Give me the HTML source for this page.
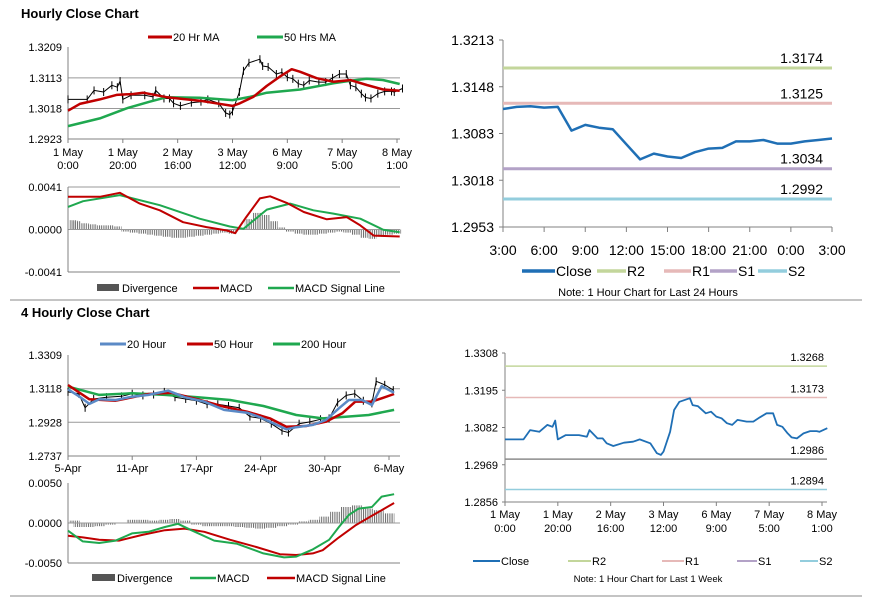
<!DOCTYPE html>
<html><head><meta charset="utf-8">
<style>
body{margin:0;background:#fff;}
svg{display:block;font-family:"Liberation Sans",Arial,sans-serif;}
</style></head>
<body>
<svg id="c" width="873" height="601" viewBox="0 0 873 601" xmlns="http://www.w3.org/2000/svg">
<defs><pattern id="hatch" width="2.2" height="4" patternUnits="userSpaceOnUse"><rect width="1" height="4" fill="#666"/></pattern></defs>
<rect width="873" height="601" fill="#fff"/>
<text x="21" y="18" font-size="13" font-weight="bold">Hourly Close Chart</text>
<text x="21" y="317" font-size="13" font-weight="bold">4 Hourly Close Chart</text>
<line x1="10" y1="300" x2="862" y2="300" stroke="#888" stroke-width="1"/>
<line x1="10" y1="596" x2="862" y2="596" stroke="#888" stroke-width="1"/>
<g id="root"></g>
</svg>
<script>
// ---------- DATA ----------
const hrTickLabels=[["1 May","0:00"],["1 May","20:00"],["2 May","16:00"],["3 May","12:00"],["6 May","9:00"],["7 May","5:00"],["8 May","1:00"]];
const hrTickHours=[0,20,40,60,80,100,120];
const closeHours=[0,7,9.5,13,16,18,19,20,23,28,31,32,35,37,38.5,41,45,48.5,51,55,57.5,59,60,62.5,64,66,70,71,73,76,78,80,82,84,86,88,91.5,94,96.5,99,101.5,103,105,107,108.5,110.5,113,115.5,118,119,122];
const closeVals=[1.3046,1.3046,1.3074,1.3069,1.3090,1.3084,1.3103,1.3046,1.3059,1.3059,1.3054,1.3074,1.3049,1.3049,1.3034,1.3026,1.3036,1.3039,1.3046,1.3034,1.3004,1.2999,1.3009,1.3069,1.3135,1.3160,1.3171,1.3150,1.3147,1.3125,1.3130,1.3115,1.3110,1.3095,1.3090,1.3105,1.3100,1.3100,1.3113,1.3125,1.3125,1.3090,1.3084,1.3064,1.3052,1.3049,1.3064,1.3071,1.3071,1.3069,1.3080];
const ma20Hours=[0,4.3,11.6,17.7,23.8,27.4,36,48,54,60,62.7,67.6,72.5,77.3,81.6,84.7,90.7,96.8,103,109,115,121];
const ma20Vals=[1.3011,1.3032,1.3046,1.3060,1.3063,1.3067,1.3053,1.3042,1.3034,1.3026,1.3034,1.3054,1.3088,1.3117,1.3140,1.3132,1.3112,1.3101,1.3106,1.3091,1.3077,1.3073];
const ma50Hours=[0,11.6,21.3,29.8,36,48,60,66.4,72.5,84.7,96.8,103,109,115,121];
const ma50Vals=[1.2963,1.2987,1.3018,1.3039,1.3053,1.3051,1.3044,1.3054,1.3067,1.3077,1.3096,1.3104,1.3110,1.3106,1.3094];
const macd1Hours=[0,11.6,18.9,26.2,33.5,42,50.5,58,61,65,70,73.7,79.8,86,94.4,101.7,106.6,111.5,121];
const macd1Vals=[0.00315,0.00315,0.00354,0.0025,0.00185,0.0007,0.00023,-0.0001,-0.00036,0.0012,0.003,0.0032,0.00257,0.00169,0.00098,0.0012,0.0004,-0.00059,-0.00068];
const sig1Hours=[0,5.5,18.9,33.5,48,59,64,72.5,81,89.5,96.8,106.6,115,121];
const sig1Vals=[0.00218,0.00273,0.00332,0.00234,0.00104,0.00029,0.00007,0.00192,0.0025,0.00185,0.00153,0.00104,-0.00003,-0.00026];
const div1Vals=[.0009,.0008,.0006,.0005,.0004,.0004,.0003,-.0002,-.0003,-.0004,-.0005,-.0006,-.0007,-.0008,-.0008,-.0007,-.0006,-.0005,-.0004,-.0003,-.0004,.0001,.0010,.0016,.0014,.0008,.0002,-.0002,-.0004,-.0005,-.0005,-.0004,-.0003,-.0002,-.0003,-.0005,-.0008,-.0009,-.0007,-.0005,-.0004];
const dayLabels=["3:00","6:00","9:00","12:00","15:00","18:00","21:00","0:00","3:00"];
const dayClose=[1.3117,1.3120,1.3121,1.3119,1.3120,1.3087,1.3095,1.3091,1.3089,1.3068,1.3047,1.3055,1.3051,1.3049,1.3057,1.3062,1.3063,1.3072,1.3072,1.3074,1.3069,1.3069,1.3072,1.3074,1.3076];
const dayLevels=[1.3174,1.3125,1.3034,1.2992];
const weekLevels=[1.3268,1.3173,1.2986,1.2894];
const h4TickLabels=["5-Apr","11-Apr","17-Apr","24-Apr","30-Apr","6-May"];
const h4TickIdx=[0,30,60,90,120,150];
const h4PriceIdx=[0,5,8,12,18,25,30,35,40,45,50,55,60,65,70,75,80,85,90,95,100,103,108,113,118,122,126,130,134,138,142,144,148,152];
const h4PriceVals=[1.3100,1.3090,1.3010,1.3060,1.3070,1.3075,1.3090,1.3080,1.3085,1.3100,1.3070,1.3060,1.3050,1.3030,1.3030,1.3020,1.3010,1.2960,1.2950,1.2920,1.2880,1.2870,1.2920,1.2930,1.2945,1.2950,1.3040,1.3080,1.3090,1.3050,1.3035,1.3160,1.3140,1.3110];
const m20Idx=[0,5.4,10,14.6,22.3,29.9,37.6,46.8,54.5,63.7,72.9,83.7,89.8,95.9,102,106.7,114.4,120.5,126.6,131.2,137.4,142,146.6,152.4];
const m20Vals=[1.3115,1.3073,1.3032,1.3058,1.3054,1.3073,1.3083,1.3107,1.3070,1.3045,1.2998,1.2982,1.2956,1.2922,1.2888,1.2900,1.2913,1.2941,1.3007,1.3054,1.3054,1.3026,1.3133,1.3095];
const m50Idx=[0,10,22.3,37.6,48.4,60.6,72.9,83.7,94.4,102,111.3,120.5,128.2,134.3,142,146.6,152.4];
const m50Vals=[1.3139,1.3058,1.3050,1.3088,1.3095,1.3058,1.3016,1.2988,1.2950,1.2903,1.2907,1.2931,1.2979,1.3045,1.3045,1.3064,1.3088];
const m200Idx=[0,14.6,29.9,45.3,60.6,75.8,91.3,106.7,119,129.7,140.5,152.4];
const m200Vals=[1.3130,1.3083,1.3092,1.3083,1.3070,1.3054,1.3020,1.2969,1.2950,1.2959,1.2969,1.2998];
const macd4Idx=[0,6.9,14.6,22.3,29.9,37.6,45.3,51.4,57.6,68.3,79,91.3,101,106.7,114.4,122,126.6,131.2,135.8,142,146.6,152.4];
const macd4Vals=[-0.00096,-0.0023,-0.0025,-0.0022,-0.0013,-0.0011,-0.0005,-0.0001,-0.0009,-0.0022,-0.0026,-0.0038,-0.0043,-0.0042,-0.0033,-0.0021,-0.0005,0.0010,0.0018,0.0020,0.0033,0.0036];
const sig4Idx=[0,6.9,14.6,23.8,34.5,45.3,54.5,63.7,75.8,88,99,106.7,114.4,119,126.6,134.3,142,152.4];
const sig4Vals=[-0.0016,-0.0018,-0.0021,-0.0022,-0.0015,-0.0009,-0.0007,-0.0011,-0.0021,-0.0030,-0.0039,-0.0040,-0.0038,-0.0034,-0.0018,-0.0003,0.0009,0.0025];
const div4Vals=[.0003,-.0005,-.0005,-.0004,-.0002,0,.0004,.0004,.0003,.0004,.0005,.0003,-.0002,-.0004,-.0004,-.0004,-.0005,-.0006,-.0007,-.0006,-.0004,-.0002,.0002,.0004,.0008,.0014,.0020,.0022,.0018,.0016,.0012];

// ---------- HELPERS ----------
const NS="http://www.w3.org/2000/svg";
const root=document.getElementById('root');
function mk(tag,attrs,parent){const e=document.createElementNS(NS,tag);for(const k in attrs)e.setAttribute(k,attrs[k]);(parent||root).appendChild(e);return e;}
function lin(d0,d1,r0,r1){return v=>r0+(v-d0)/(d1-d0)*(r1-r0);}
function txt(x,y,s,size,anchor,name){const t=mk('text',{x:x,y:y,'font-size':size,'text-anchor':anchor||'start',fill:'#000'});t.textContent=s;


return t;}
function path(xs,ys,X,Y,color,w,name){let d='';for(let i=0;i<xs.length;i++)d+=(i?'L':'M')+X(xs[i]).toFixed(1)+','+Y(ys[i]).toFixed(1);
const p=mk('path',{d:d,fill:'none',stroke:color,'stroke-width':w,'stroke-linejoin':'round'});


return p;}
function hline(x1,x2,y,color,w,name){const l=mk('line',{x1:x1,x2:x2,y1:y,y2:y,stroke:color,'stroke-width':w});


return l;}
function vline(x,y1,y2,color,w,name){const l=mk('line',{x1:x,x2:x,y1:y1,y2:y2,stroke:color,'stroke-width':w});


return l;}
function legendLine(x1,x2,y,color,w,label,name){hline(x1,x2,y,color,w,name+'-swatch');txt(x2+1,y+4,label,11,'start',name+'-label');}
function frame(x0,x1,y0,y1){vline(x0,y0,y1,'#808080',1,'y-axis');hline(x0,x1,y1,'#808080',1,'x-axis');}
function bars(vals,step,X,Y,name){const z=Y(0);const w=X(step)-X(0);vals.forEach((v,i)=>{const x=X(i*step)-w/2;const y=Y(v);
const r=mk('rect',{x:Math.max(x,X(0)+1),y:Math.min(y,z),width:w,height:Math.abs(y-z),fill:'url(#hatch)'});


});}
function priceBars(xs,ys,X,Y,name){path(xs,ys,X,Y,'#000',1,name+'-line');xs.forEach((h,i)=>{const x=X(h),y=Y(ys[i]);
const l=mk('line',{x1:x,x2:x,y1:y-4,y2:y+4,stroke:'#000','stroke-width':1});


});}

// ---------- PANEL 1 ----------
{const X=lin(0,120,68,397),Y=lin(1.3209,1.2923,47,139);
[1.3209,1.3113,1.3018,1.2923].forEach((v,i)=>{if(i>0&&i<3)hline(68,400,Y(v),'#999',1,'h1-gridline');txt(62,Y(v)+4,v.toFixed(4),11,'end','h1-y-tick');});
frame(68,400,47,139);
hrTickHours.forEach((h,i)=>{vline(X(h),139,143,'#808080',1,'h1-x-tick');txt(X(h),156,hrTickLabels[i][0],11,'middle','h1-x-label');txt(X(h),169,hrTickLabels[i][1],11,'middle','h1-x-label');});
priceBars(closeHours,closeVals,X,Y,'h1-price');
path(ma50Hours,ma50Vals,X,Y,'#1fa84f',2.5,'ma50-line');
path(ma20Hours,ma20Vals,X,Y,'#c00000',2.5,'ma20-line');
legendLine(148,172,37,'#c00000',3,'20 Hr MA','legend-20hr-ma');
legendLine(257,283,37,'#1fa84f',3,'50 Hrs MA','legend-50hrs-ma');
const Ym=lin(0.0041,-0.0041,187,272);
[0.0041,0,-0.0041].forEach(v=>txt(62,Ym(v)+4,v.toFixed(4),11,'end','h1-macd-y-tick'));
hline(68,400,187,'#999',1,'h1-macd-top-grid');
bars(div1Vals,3,X,Ym,'h1-divergence-bar');
hline(68,400,Ym(0),'#999',1,'h1-macd-zero');
vline(68,187,272,'#808080',1,'h1-macd-y-axis');hline(68,400,272,'#808080',1,'h1-macd-x-axis');
path(sig1Hours,sig1Vals,X,Ym,'#1fa84f',2,'h1-signal-line');
path(macd1Hours,macd1Vals,X,Ym,'#c00000',2,'h1-macd-line');
mk('rect',{x:97,y:284,width:22,height:7,fill:'#555'});
txt(122,292,'Divergence',11,'start','legend-divergence');
legendLine(193,219,288,'#c00000',2.5,'MACD','legend-macd');
legendLine(268,294,288,'#1fa84f',2.5,'MACD Signal Line','legend-signal');
}
// ---------- PANEL 2 ----------
{const X=lin(0,24,503,832),Y=lin(1.3213,1.2953,40,227);
[1.3213,1.3148,1.3083,1.3018,1.2953].forEach(v=>{txt(494,Y(v)+5,v.toFixed(4),14,'end','day-y-tick');hline(499,503,Y(v),'#808080',1,'day-y-tickmark');});
frame(503,832,40,227);
dayLabels.forEach((s,i)=>{vline(X(i*3),227,232,'#808080',1,'day-x-tick');txt(X(i*3),255,s,14,'middle','day-x-label');});
const cols=['#c3d69b','#e6b9b8','#b3a2c7','#93cddd'],nm=['r2','r1','s1','s2'];
dayLevels.forEach((v,i)=>{hline(503,832,Y(v),cols[i],3,'day-'+nm[i]+'-line');txt(823,Y(v)-5,v.toFixed(4),14,'end','day-'+nm[i]+'-value');});
path(dayClose.map((v,i)=>i),dayClose,X,Y,'#1f6fb5',2.5,'day-close-line');
const lg=[[522,555,'#1f6fb5','Close'],[597,626,cols[0],'R2'],[664,691,cols[1],'R1'],[710,737,cols[2],'S1'],[758,787,cols[3],'S2']];
lg.forEach(a=>{hline(a[0],a[1],271,a[2],3.5,'day-legend-'+a[3]+'-swatch');txt(a[1]+1,276,a[3],14,'start','day-legend-'+a[3]);});
txt(648,296,'Note: 1 Hour Chart for Last 24 Hours',11,'middle','day-note');
}
// ---------- PANEL 3 ----------
{const X=lin(0,150,68,389),Y=lin(1.3309,1.2737,355,456);
[1.3309,1.3118,1.2928,1.2737].forEach((v,i)=>{if(i>0&&i<3)hline(68,400,Y(v),'#999',1,'h4-gridline');txt(62,Y(v)+4,v.toFixed(4),11,'end','h4-y-tick');});
frame(68,400,355,456);
h4TickIdx.forEach((h,i)=>{vline(X(h),456,460,'#808080',1,'h4-x-tick');txt(X(h),472,h4TickLabels[i],11,'middle','h4-x-label');});
priceBars(h4PriceIdx,h4PriceVals,X,Y,'h4-price');
path(m200Idx,m200Vals,X,Y,'#1fa84f',2.5,'ma200-line');
path(m50Idx,m50Vals,X,Y,'#c00000',2.5,'ma50-4h-line');
path(m20Idx,m20Vals,X,Y,'#5b8ac6',2.5,'ma20-4h-line');
legendLine(100,126,344,'#5b8ac6',3,'20 Hour','legend-20-hour');
legendLine(187,213,344,'#c00000',3,'50 Hour','legend-50-hour');
legendLine(273,300,344,'#1fa84f',3,'200 Hour','legend-200-hour');
const Ym=lin(0.005,-0.005,483,563);
[0.005,0,-0.005].forEach(v=>txt(62,Ym(v)+4,v.toFixed(4),11,'end','h4-macd-y-tick'));
bars(div4Vals,5,X,Ym,'h4-divergence-bar');
hline(68,400,Ym(0),'#999',1,'h4-macd-zero');
vline(68,483,563,'#808080',1,'h4-macd-y-axis');hline(68,400,563,'#808080',1,'h4-macd-x-axis');
path(sig4Idx,sig4Vals,X,Ym,'#c00000',2,'h4-signal-line');
path(macd4Idx,macd4Vals,X,Ym,'#1fa84f',2,'h4-macd-line');
mk('rect',{x:92,y:574,width:23,height:7,fill:'#555'});
txt(117,582,'Divergence',11,'start','legend-4h-divergence');
legendLine(190,216,578,'#1fa84f',2.5,'MACD','legend-4h-macd');
legendLine(267,295,578,'#c00000',2.5,'MACD Signal Line','legend-4h-signal');
}
// ---------- PANEL 4 ----------
{const X=lin(0,120,505,822),Y=lin(1.3308,1.2856,353,502);
[1.3308,1.3195,1.3082,1.2969,1.2856].forEach(v=>{txt(498,Y(v)+4,v.toFixed(4),11,'end','week-y-tick');hline(502,505,Y(v),'#808080',1,'week-y-tickmark');});
frame(505,827,353,502);
hrTickHours.forEach((h,i)=>{vline(X(h),502,506,'#808080',1,'week-x-tick');txt(X(h),518,hrTickLabels[i][0],11,'middle','week-x-label');txt(X(h),532,hrTickLabels[i][1],11,'middle','week-x-label');});
const cols=['#c3d69b','#e6b9b8','#8c8c8c','#93cddd'],nm=['r2','r1','s1','s2'];
weekLevels.forEach((v,i)=>{hline(505,827,Y(v),cols[i],1.5,'week-'+nm[i]+'-line');txt(824,Y(v)-5,v.toFixed(4),11,'end','week-'+nm[i]+'-value');});
path(closeHours,closeVals,X,Y,'#1f6fb5',1.8,'week-close-line');
const lg=[[473,500,'#1f6fb5','Close'],[568,591,'#c3d69b','R2'],[662,684,'#e6b9b8','R1'],[737,757,'#b3a2c7','S1'],[800,818,'#93cddd','S2']];
lg.forEach(a=>{hline(a[0],a[1],561,a[2],2,'week-legend-'+a[3]+'-swatch');txt(a[1]+1,565,a[3],11,'start','week-legend-'+a[3]);});
txt(648,582,'Note: 1 Hour Chart for Last 1 Week',9.5,'middle','week-note');
}
</script>
</body></html>
